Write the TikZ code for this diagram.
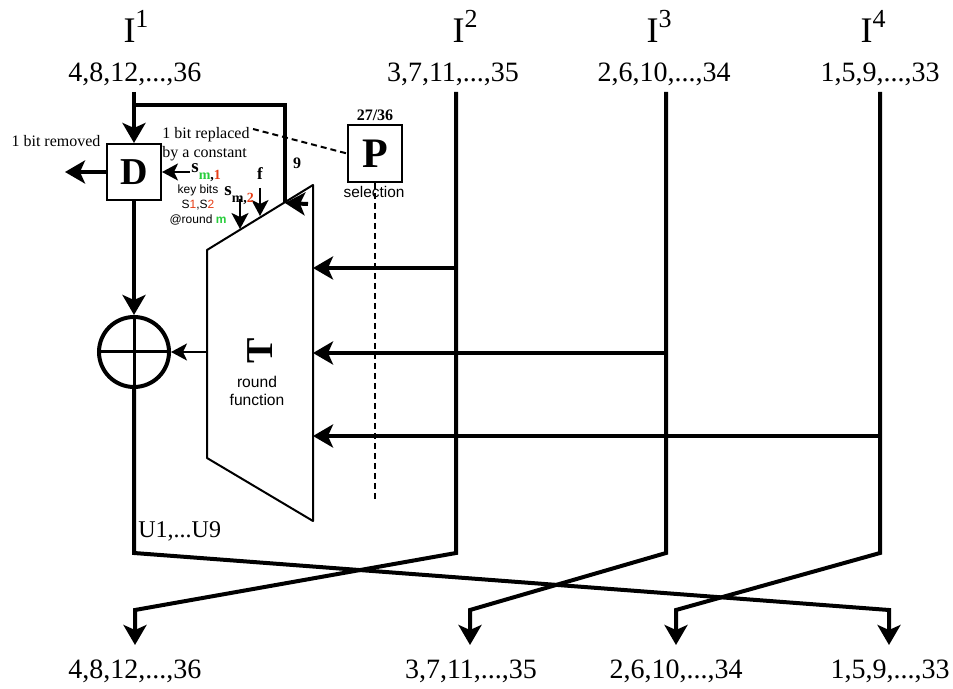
\documentclass[tikz,border=0pt]{standalone}
\usepackage{fontspec}
\setmainfont{Liberation Serif}
\newfontfamily\arialf{Liberation Sans}
\usepackage{tikz}
\usetikzlibrary{calc, arrows.meta}
\usepackage{tkz-euclide}
\definecolor{roundgreen}{RGB}{40,205,60}
\definecolor{keyred}{RGB}{230,60,20}
\newcommand{\fsz}[2]{\fontsize{#1}{#2}\selectfont}
\newcommand{\Iname}[1]{\fsz{18}{20}I\raisebox{7.5pt}{\fsz{13}{14}#1}}
\newcommand{\skey}[2]{\fsz{9.5}{10}\textbf{s}\raisebox{-3.5pt}{\fsz{7}{8}\textbf{\textcolor{#1}{m},\textcolor{keyred}{#2}}}}

\begin{document}
\begin{tikzpicture}[x=0.5pt, y=-0.5pt,
    bus/.style={line width=2pt},
    wire/.style={line width=1pt},
    arr/.style={-{Stealth[length=10pt, width=11.5pt, inset=2.5pt]}},
    sarr/.style={-{Stealth[length=8pt, width=8.5pt, inset=2pt]}},
    dashline/.style={line width=1pt, dash pattern=on 3pt off 2pt},
    box/.style={draw, line width=1pt, minimum width=27pt, minimum height=28pt, inner sep=0pt},
    lbl/.style={inner sep=0pt, anchor=base},
    num/.style={lbl, font=\fsz{14}{16}}]
  \useasboundingbox (0,0) rectangle (953,689);
  \tkzDefPoints{134/92/t_1, 456/92/t_2, 666/92/t_3, 880/92/t_4,
                134/553/b_1, 456/553/b_2, 666/553/b_3, 880/553/b_4,
                135/610/k_1, 470/610/k_2, 676/610/k_3, 889/610/k_4,
                135/645/o_1, 470/645/o_2, 676/645/o_3, 889/645/o_4}
  \tkzDefPoints{207/250/T_1, 313/185/T_2, 313/521/T_3, 207/458/T_4}
  \tkzDefPoints{134/105/j_1, 285/105/j_2, 285/203/j_3, 308/204/j_4}
  \tkzDefPoints{456/268/g_2, 666/353/g_3, 880/436/g_4,
                313/268/h_2, 313/353/h_3, 313/436/h_4, 207/352/h_1}
  \tkzDefPoints{65/172/r_1, 190/172/s_1, 240/199/s_2, 240/229/e_2,
                260/188/s_f, 260/216/e_f, 253/129/q_1, 375/500/q_2}
  % boxes
  \node[box] (D) at (134,172) {\fsz{19}{20}\bfseries D};
  \node[box, minimum height=28.5pt] (P) at (375,153.5) {\fsz{21}{22}\bfseries P};
  \node[circle, draw, line width=2pt, minimum size=35pt, inner sep=0pt] (xor) at (134,352) {};
  \draw[line width=1.5pt] (xor.north) -- (xor.south) (xor.west) -- (xor.east);
  \tkzDrawPolygon[line width=1pt](T_1,T_2,T_3,T_4)
  % data lines
  \draw[bus,arr] (t_1) -- (D.north);
  \draw[bus] (j_1) -- (j_2) -- (j_3);
  \draw[bus,arr] (j_4) -- (j_3);
  \draw[bus,arr] (D.west) -- (r_1);
  \draw[bus,arr] (D.south) -- (xor.north);
  \draw[bus,arr] (xor.south) -- (b_1) -- (k_4) -- (o_4);
  \draw[bus,arr] (t_2) -- (b_2) -- (k_1) -- (o_1);
  \draw[bus,arr] (t_3) -- (b_3) -- (k_2) -- (o_2);
  \draw[bus,arr] (t_4) -- (b_4) -- (k_3) -- (o_3);
  \foreach \i in {2,3,4} \draw[bus,arr] (g_\i) -- (h_\i);
  \draw[wire,sarr] (h_1) -- (xor.east);
  \draw[wire,sarr] (s_1) -- (D.east);
  \draw[wire,sarr] (s_2) -- (e_2);
  \draw[wire,sarr] (s_f) -- (e_f);
  \draw[dashline] (q_1) -- (P.west);
  \draw[dashline] (P.south) -- (q_2);
  % labels
  \node[lbl] (I_1) at (136,43) {\Iname{1}};
  \node[lbl] (I_2) at (465,43) {\Iname{2}};
  \node[lbl] (I_3) at (659,43) {\Iname{3}};
  \node[lbl] (I_4) at (873,43) {\Iname{4}};
  \node[num] (n_1) at (135,82) {4,8,12,...,36};
  \node[num] (n_2) at (453,82) {3,7,11,...,35};
  \node[num] (n_3) at (664,82) {2,6,10,...,34};
  \node[num] (n_4) at (880,82) {1,5,9,...,33};
  \node[num] (m_1) at (135,678) {4,8,12,...,36};
  \node[num] (m_2) at (471,678) {3,7,11,...,35};
  \node[num] (m_3) at (676,678) {2,6,10,...,34};
  \node[num] (m_4) at (890,678) {1,5,9,...,33};
  \node[lbl] (rem) at (56,147) {\fsz{8}{9}1 bit removed};
  \node[inner sep=0pt, align=left, font=\fsz{8}{9.5}] (rep) at (206,144) {1 bit replaced\\by a constant};
  \node[lbl] (frac) at (375,121) {\fsz{8}{9}\bfseries 27/36};
  \node[lbl] (sel) at (374,198) {\arialf\fsz{7.7}{9}selection};
  \node[lbl] (nine) at (297,169) {\fsz{8}{9}\bfseries 9};
  \node[lbl] (f) at (260,180) {\fsz{8.5}{9}\bfseries f};
  \node[lbl, anchor=base west] (sk_1) at (191,173) {\skey{roundgreen}{1}};
  \node[lbl, anchor=base west] (sk_2) at (224,196) {\skey{black}{2}};
  \node[inner sep=0pt, align=center, font=\arialf\fsz{6}{7.5}] (keys) at (198,205)
    {key bits\\S\textcolor{keyred}{1},S\textcolor{keyred}{2}\\@round \textcolor{roundgreen}{\bfseries m}};
  \node[inner sep=0pt, rotate=90] (Tsym) at (260,351) {\fsz{19}{20}\bfseries T};
  \node[inner sep=0pt, align=center, font=\arialf\fsz{7.8}{9}] (rf) at (257,391) {round\\function};
  \node[lbl, anchor=base west] (U) at (138,537) {\fsz{12}{14}U1,...U9};
\end{tikzpicture}
\end{document}
